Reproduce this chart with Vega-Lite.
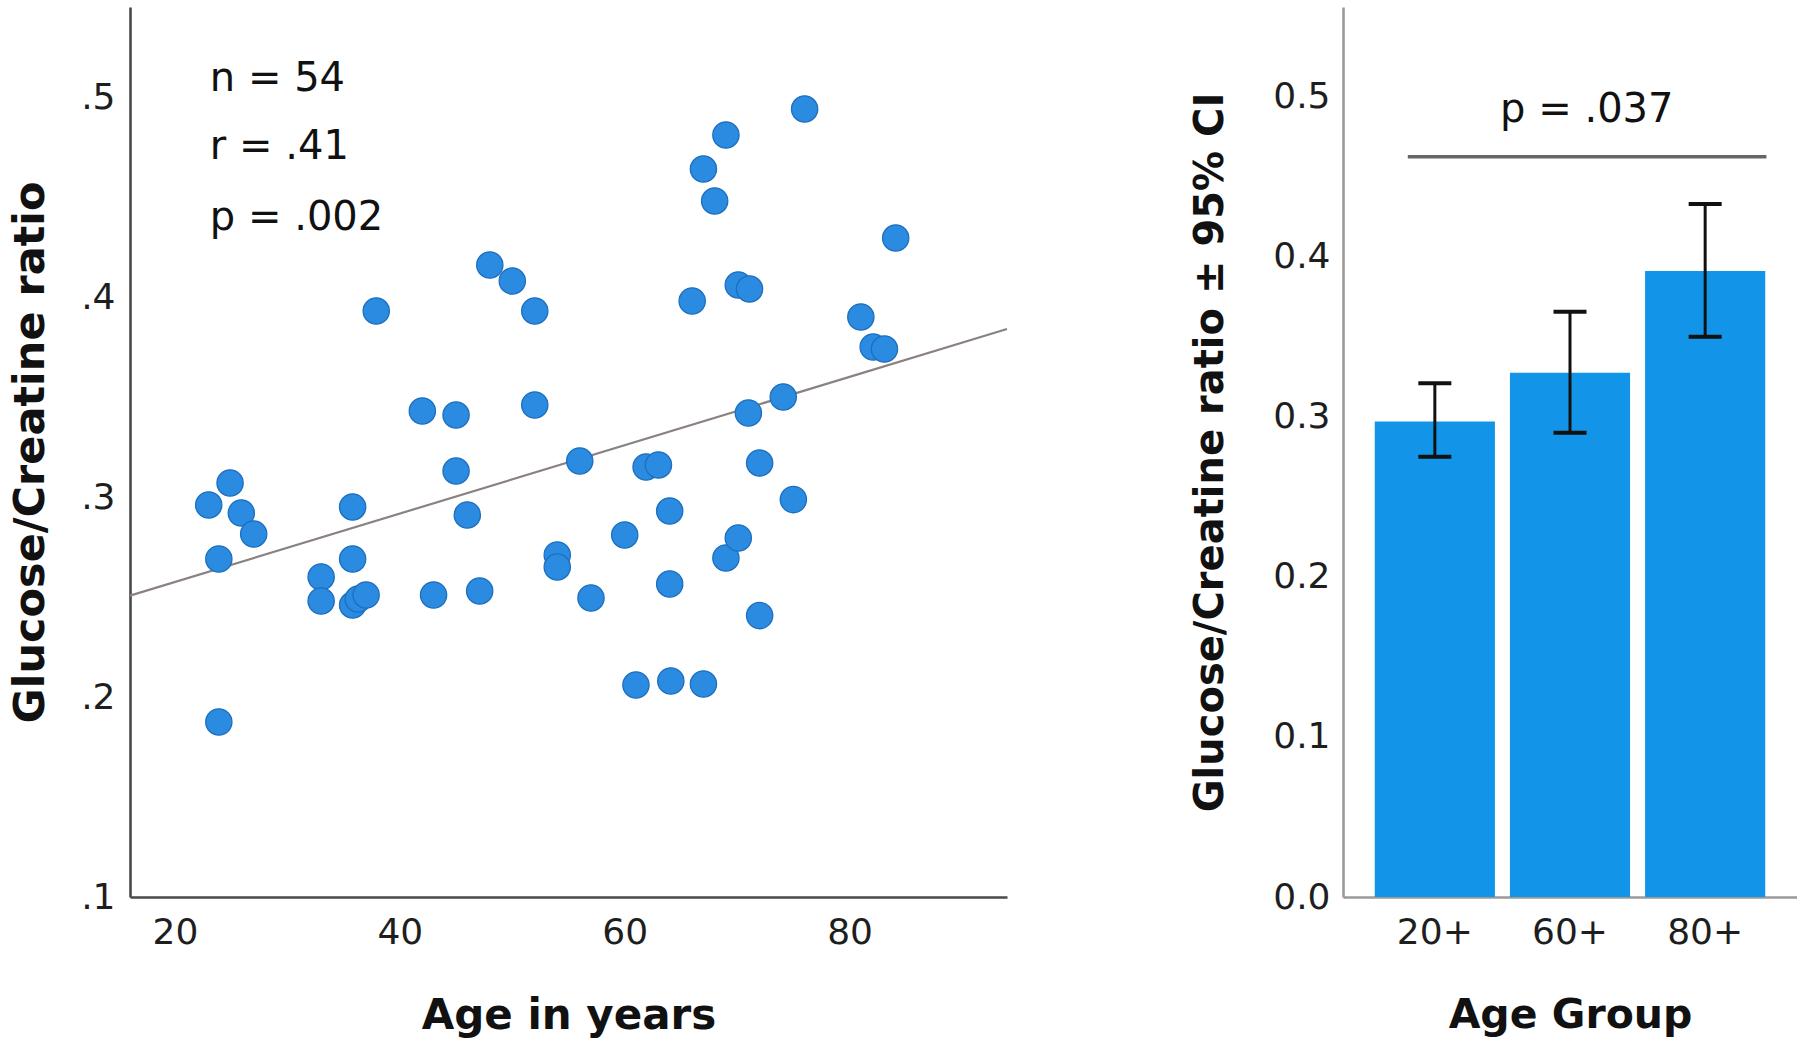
{
  "$schema": "https://vega.github.io/schema/vega-lite/v6.json",
  "background": "white",
  "padding": {"left": 9, "top": 7, "right": 0, "bottom": 5},
  "bounds": "flush",
  "spacing": 336,
  "config": {
    "view": {"stroke": null},
    "axis": {"ticks": false, "tickSize": 0, "grid": false, "labelFlush": false, "labelFont": "DejaVu Sans", "labelFontSize": 36, "labelColor": "#1e1e1e", "titleFont": "DejaVu Sans", "titleFontWeight": "bold", "titleColor": "#111111", "labelOverlap": false}
  },
  "hconcat": [
    {
      "width": 877,
      "height": 890,
      "layer": [
        {
          "data": {"values": [{"age": 16, "ratio": 0.2507}, {"age": 94, "ratio": 0.384}]},
          "mark": {"type": "line", "color": "#8a8280", "strokeWidth": 2.2},
          "encoding": {
            "x": {"field": "age", "type": "quantitative", "title": "Age in years", "scale": {"domain": [16, 94], "nice": false, "zero": false}},
            "y": {"field": "ratio", "type": "quantitative", "title": "Glucose/Creatine ratio", "scale": {"domain": [0.1, 0.545], "nice": false, "zero": false}}
          }
        },
        {
          "data": {"values": [
            {"age": 23.0, "ratio": 0.296}, {"age": 24.9, "ratio": 0.307}, {"age": 25.9, "ratio": 0.292}, {"age": 27.0, "ratio": 0.2815},
            {"age": 23.9, "ratio": 0.269}, {"age": 23.9, "ratio": 0.1875}, {"age": 33.0, "ratio": 0.260}, {"age": 33.0, "ratio": 0.248},
            {"age": 35.8, "ratio": 0.295}, {"age": 35.8, "ratio": 0.269}, {"age": 35.8, "ratio": 0.246}, {"age": 36.3, "ratio": 0.249},
            {"age": 37.0, "ratio": 0.251}, {"age": 37.9, "ratio": 0.393}, {"age": 42.0, "ratio": 0.343}, {"age": 43.0, "ratio": 0.251},
            {"age": 45.0, "ratio": 0.341}, {"age": 45.0, "ratio": 0.313}, {"age": 46.0, "ratio": 0.291}, {"age": 47.1, "ratio": 0.253},
            {"age": 48.0, "ratio": 0.416}, {"age": 50.0, "ratio": 0.408}, {"age": 52.0, "ratio": 0.393}, {"age": 52.0, "ratio": 0.346},
            {"age": 54.0, "ratio": 0.271}, {"age": 54.0, "ratio": 0.265}, {"age": 56.0, "ratio": 0.318}, {"age": 57.0, "ratio": 0.2495},
            {"age": 60.0, "ratio": 0.281}, {"age": 61.0, "ratio": 0.206}, {"age": 61.9, "ratio": 0.315}, {"age": 63.0, "ratio": 0.316},
            {"age": 64.0, "ratio": 0.293}, {"age": 64.0, "ratio": 0.2565}, {"age": 64.1, "ratio": 0.208}, {"age": 66.0, "ratio": 0.398},
            {"age": 67.0, "ratio": 0.464}, {"age": 67.0, "ratio": 0.2065}, {"age": 68.0, "ratio": 0.448}, {"age": 69.0, "ratio": 0.481},
            {"age": 69.0, "ratio": 0.2695}, {"age": 70.1, "ratio": 0.2795}, {"age": 70.1, "ratio": 0.406}, {"age": 71.1, "ratio": 0.404},
            {"age": 71.0, "ratio": 0.342}, {"age": 72.0, "ratio": 0.317}, {"age": 72.0, "ratio": 0.2407}, {"age": 74.1, "ratio": 0.350},
            {"age": 75.0, "ratio": 0.2987}, {"age": 76.0, "ratio": 0.494}, {"age": 81.0, "ratio": 0.390}, {"age": 82.1, "ratio": 0.375},
            {"age": 83.1, "ratio": 0.374}, {"age": 84.1, "ratio": 0.4295}
          ]},
          "mark": {"type": "circle", "size": 690, "fill": "#2a8be0", "stroke": "#1d6fbf", "strokeWidth": 1.3, "opacity": 1},
          "encoding": {
            "x": {"field": "age", "type": "quantitative", "title": "Age in years", "scale": {"domain": [16, 94], "nice": false, "zero": false},
              "axis": {"values": [20, 40, 60, 80], "domainColor": "#4a4a4a", "domainWidth": 2.6, "labelPadding": 18, "titleFontSize": 42, "titlePadding": 45}},
            "y": {"field": "ratio", "type": "quantitative", "title": "Glucose/Creatine ratio", "scale": {"domain": [0.1, 0.545], "nice": false, "zero": false},
              "axis": {"values": [0.1, 0.2, 0.3, 0.4, 0.5], "labelExpr": "substring(format(datum.value, '.1f'), 1)", "domainColor": "#4a4a4a", "domainWidth": 2.6, "labelPadding": 15, "titleFontSize": 43, "titlePadding": 28}}
          }
        },
        {
          "data": {"values": [
            {"age": 23.1, "ratio": 0.503, "label": "n = 54"},
            {"age": 23.1, "ratio": 0.469, "label": "r = .41"},
            {"age": 23.1, "ratio": 0.4335, "label": "p = .002"}
          ]},
          "mark": {"type": "text", "align": "left", "baseline": "alphabetic", "font": "DejaVu Sans", "fontSize": 40, "color": "#111111"},
          "encoding": {
            "x": {"field": "age", "type": "quantitative", "title": "Age in years", "scale": {"domain": [16, 94], "nice": false, "zero": false}},
            "y": {"field": "ratio", "type": "quantitative", "title": "Glucose/Creatine ratio", "scale": {"domain": [0.1, 0.545], "nice": false, "zero": false}},
            "text": {"field": "label"}
          }
        }
      ]
    },
    {
      "width": 454,
      "height": 890,
      "layer": [
        {
          "data": {"values": [
            {"group": "20+", "mean": 0.297, "lo": 0.275, "hi": 0.321},
            {"group": "60+", "mean": 0.3275, "lo": 0.29, "hi": 0.3656},
            {"group": "80+", "mean": 0.391, "lo": 0.35, "hi": 0.433}
          ]},
          "layer": [
            {
              "mark": {"type": "bar", "color": "#1295e8"},
              "encoding": {
                "x": {"field": "group", "type": "nominal", "title": "Age Group", "scale": {"paddingInner": 0.111, "paddingOuter": 0.235},
                  "axis": {"labelAngle": 0, "domainColor": "#9a9a9a", "domainWidth": 2.6, "labelPadding": 18, "titleFontSize": 41, "titlePadding": 45}},
                "y": {"field": "mean", "type": "quantitative", "title": "Glucose/Creatine ratio ± 95% CI", "scale": {"domain": [0, 0.556], "nice": false},
                  "axis": {"values": [0, 0.1, 0.2, 0.3, 0.4, 0.5], "format": ".1f", "domainColor": "#9a9a9a", "domainWidth": 2.6, "labelPadding": 13, "titleFontSize": 40, "titlePadding": 42}}
              }
            },
            {
              "mark": {"type": "rule", "color": "#111111", "strokeWidth": 3},
              "encoding": {
                "x": {"field": "group", "type": "nominal", "title": "Age Group"},
                "y": {"field": "lo", "type": "quantitative", "title": "Glucose/Creatine ratio ± 95% CI"},
                "y2": {"field": "hi"}
              }
            },
            {
              "mark": {"type": "tick", "color": "#111111", "size": 33, "thickness": 4, "opacity": 1},
              "encoding": {
                "x": {"field": "group", "type": "nominal", "title": "Age Group"},
                "y": {"field": "lo", "type": "quantitative", "title": "Glucose/Creatine ratio ± 95% CI"}
              }
            },
            {
              "mark": {"type": "tick", "color": "#111111", "size": 33, "thickness": 4, "opacity": 1},
              "encoding": {
                "x": {"field": "group", "type": "nominal", "title": "Age Group"},
                "y": {"field": "hi", "type": "quantitative", "title": "Glucose/Creatine ratio ± 95% CI"}
              }
            }
          ]
        },
        {
          "data": {"values": [{"g1": "20+", "g2": "80+", "yv": 0.4625}]},
          "mark": {"type": "rule", "color": "#666666", "strokeWidth": 3.5},
          "encoding": {
            "x": {"field": "g1", "type": "nominal", "title": "Age Group", "bandPosition": 0.275},
            "x2": {"field": "g2", "bandPosition": 1.01},
            "y": {"field": "yv", "type": "quantitative", "title": "Glucose/Creatine ratio ± 95% CI"}
          }
        },
        {
          "data": {"values": [{"g": "60+", "yv": 0.484, "label": "p = .037"}]},
          "mark": {"type": "text", "align": "center", "baseline": "alphabetic", "font": "DejaVu Sans", "fontSize": 40, "color": "#111111"},
          "encoding": {
            "x": {"field": "g", "type": "nominal", "title": "Age Group", "bandPosition": 0.64},
            "y": {"field": "yv", "type": "quantitative", "title": "Glucose/Creatine ratio ± 95% CI"},
            "text": {"field": "label"}
          }
        }
      ]
    }
  ]
}
